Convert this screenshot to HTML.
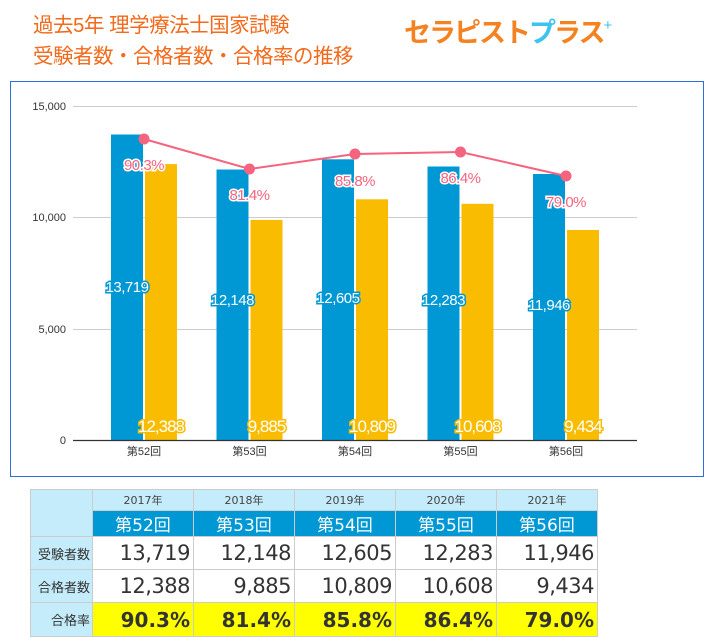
<!DOCTYPE html>
<html><head><meta charset="utf-8"><style>
body{margin:0;width:712px;height:644px;background:#fff;overflow:hidden;font-family:"Liberation Sans","Noto Sans CJK JP",sans-serif;position:relative}
.t{position:absolute;color:#f26a1b;font-size:20.5px;left:33px;white-space:nowrap;letter-spacing:-0.5px}
.logo{position:absolute;left:404px;top:11px;font-size:27px;color:#f58220;white-space:nowrap;letter-spacing:-2px;font-weight:bold}
.box{position:absolute;left:10px;top:81px;width:692px;height:394px;border:1px solid #2a6fdb}
table{position:absolute;left:30px;top:489px;border-collapse:collapse;font-family:"DejaVu Sans","Noto Sans CJK JP",sans-serif}
td{border:1.5px solid #ccc;padding:0;box-sizing:border-box}
.lb{background:#c5ecfb}
.yr{background:#c5ecfb;height:21px;font-size:11px;color:#444;text-align:center;width:101px}
.kai{background:#0098d4;color:#fff;height:24px;font-size:17px;text-align:center}
.num{height:33px;font-size:21px;color:#333;text-align:right;padding-right:3px;letter-spacing:-0.5px}
.pct{height:34px;font-size:20px;font-weight:bold;color:#333;text-align:right;padding-right:3px;background:#ffff00}
.rl{font-size:13px;color:#333;text-align:right;padding-right:2px;width:62px}
</style></head><body>
<div class="t" style="top:8px">過去5年 理学療法士国家試験</div>
<div class="t" style="top:39px">受験者数・合格者数・合格率の推移</div>
<div class="logo">セラピスト<span style="color:#3ec3f0">プ</span>ラス<span style="font-size:15px;color:#3ec3f0;position:relative;top:-12px;font-weight:normal">+</span></div>
<div class="box"></div>
<svg width="712" height="480" style="position:absolute;left:0;top:0" font-family="Liberation Sans,Noto Sans CJK JP,sans-serif">
<g stroke="#ccc" stroke-width="1">
<line x1="73" y1="106.5" x2="637" y2="106.5"/><line x1="73" y1="217.5" x2="637" y2="217.5"/><line x1="73" y1="329.5" x2="637" y2="329.5"/>
</g>
<g font-size="11" fill="#333" text-anchor="end">
<text x="66" y="110">15,000</text><text x="66" y="221">10,000</text><text x="66" y="333">5,000</text><text x="66" y="444">0</text>
</g>
<g fill="#0098d4">
<rect x="111" y="134.5" width="32" height="305.5"/><rect x="216.5" y="169.5" width="32" height="270.5"/><rect x="322" y="159.3" width="32" height="280.7"/><rect x="427.5" y="166.5" width="32" height="273.5"/><rect x="533" y="174" width="32" height="266"/>
</g>
<g fill="#f9bc00">
<rect x="145" y="164.1" width="32" height="275.9"/><rect x="250.5" y="219.9" width="32" height="220.1"/><rect x="356" y="199.3" width="32" height="240.7"/><rect x="461.5" y="203.8" width="32" height="236.2"/><rect x="567" y="230" width="32" height="210"/>
</g>
<line x1="73" y1="440.5" x2="637" y2="440.5" stroke="#333" stroke-width="1.2"/>
<g font-size="11" fill="#333" text-anchor="middle">
<text x="144" y="455">第52回</text><text x="249.5" y="455">第53回</text><text x="355" y="455">第54回</text><text x="460.5" y="455">第55回</text><text x="566" y="455">第56回</text>
</g>
<polyline points="144,139 249.5,169 355,154 460.5,152 566,176" fill="none" stroke="#f5637e" stroke-width="2"/>
<g fill="#f5637e"><circle cx="144" cy="139" r="5.5"/><circle cx="249.5" cy="169" r="5.5"/><circle cx="355" cy="154" r="5.5"/><circle cx="460.5" cy="152" r="5.5"/><circle cx="566" cy="176" r="5.5"/></g>
<g font-size="15" text-anchor="middle" fill="#f5637e" stroke="#fff" stroke-width="3" paint-order="stroke" letter-spacing="-0.5">
<text x="144" y="170">90.3%</text><text x="249.5" y="200">81.4%</text><text x="355" y="186">85.8%</text><text x="460.5" y="183">86.4%</text><text x="566" y="207">79.0%</text>
</g>
<g font-size="15" text-anchor="middle" fill="#fff" stroke="#0098d4" stroke-width="3" paint-order="stroke" letter-spacing="-0.5">
<text x="127" y="292">13,719</text><text x="232.5" y="305">12,148</text><text x="338" y="303">12,605</text><text x="443.5" y="305">12,283</text><text x="549" y="310">11,946</text>
</g>
<g font-size="17" text-anchor="middle" fill="#fff" stroke="#f9bc00" stroke-width="3" paint-order="stroke" letter-spacing="-1">
<text x="161" y="432">12,388</text><text x="266.5" y="432">9,885</text><text x="372" y="432">10,809</text><text x="477.5" y="432">10,608</text><text x="583" y="432">9,434</text>
</g>
</svg>
<table>
<tr><td class="lb" rowspan="2"></td><td class="yr">2017年</td><td class="yr">2018年</td><td class="yr">2019年</td><td class="yr">2020年</td><td class="yr">2021年</td></tr>
<tr><td class="kai">第52回</td><td class="kai">第53回</td><td class="kai">第54回</td><td class="kai">第55回</td><td class="kai">第56回</td></tr>
<tr><td class="lb rl">受験者数</td><td class="num">13,719</td><td class="num">12,148</td><td class="num">12,605</td><td class="num">12,283</td><td class="num">11,946</td></tr>
<tr><td class="lb rl">合格者数</td><td class="num">12,388</td><td class="num">9,885</td><td class="num">10,809</td><td class="num">10,608</td><td class="num">9,434</td></tr>
<tr><td class="lb rl">合格率</td><td class="pct">90.3%</td><td class="pct">81.4%</td><td class="pct">85.8%</td><td class="pct">86.4%</td><td class="pct">79.0%</td></tr>
</table>
</body></html>
